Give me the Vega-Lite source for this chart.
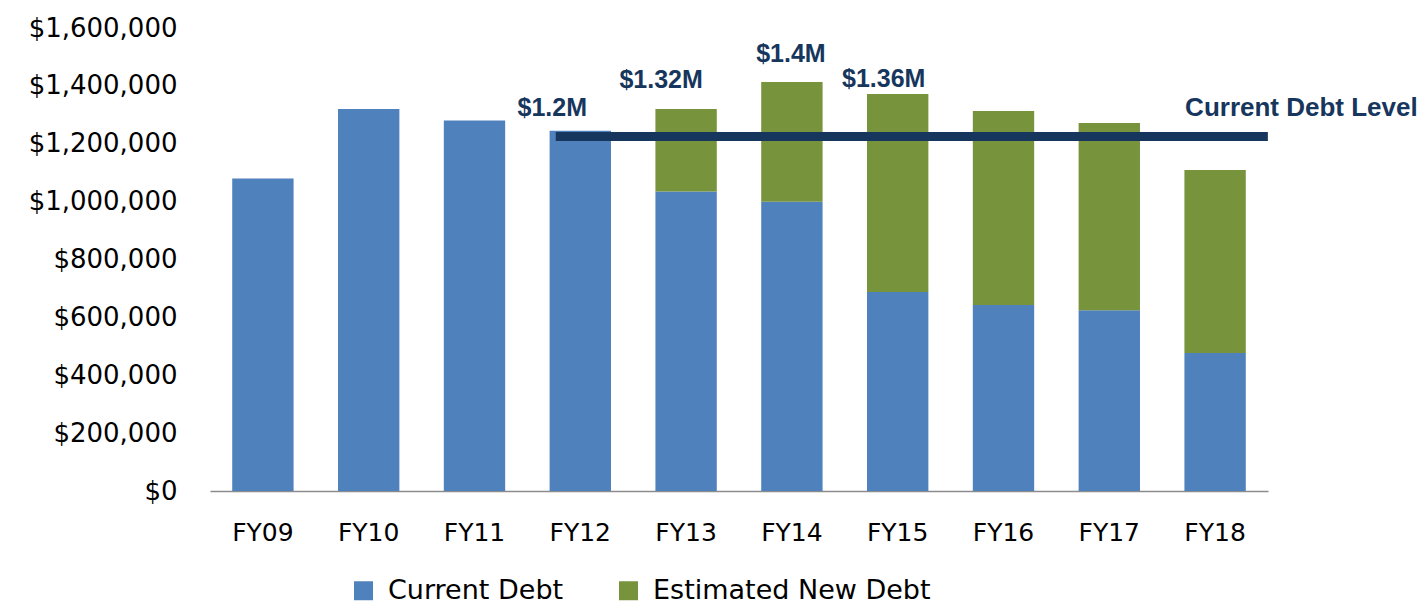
{
  "$schema": "https://vega.github.io/schema/vega-lite/v6.json",
  "width": 1058,
  "height": 463,
  "autosize": {"type": "none"},
  "padding": {"left": 210, "top": 28, "right": 157, "bottom": 114},
  "background": "white",
  "config": {"view": {"stroke": null}, "font": "DejaVu Sans"},
  "datasets": {
    "debt": [
      {"fy": "FY09", "series": "Current Debt", "value": 1080000},
      {"fy": "FY10", "series": "Current Debt", "value": 1320000},
      {"fy": "FY11", "series": "Current Debt", "value": 1280000},
      {"fy": "FY12", "series": "Current Debt", "value": 1245000},
      {"fy": "FY13", "series": "Current Debt", "value": 1035000},
      {"fy": "FY13", "series": "Estimated New Debt", "value": 285000},
      {"fy": "FY14", "series": "Current Debt", "value": 1000000},
      {"fy": "FY14", "series": "Estimated New Debt", "value": 413000},
      {"fy": "FY15", "series": "Current Debt", "value": 688000},
      {"fy": "FY15", "series": "Estimated New Debt", "value": 684000},
      {"fy": "FY16", "series": "Current Debt", "value": 643000},
      {"fy": "FY16", "series": "Estimated New Debt", "value": 670000},
      {"fy": "FY17", "series": "Current Debt", "value": 625000},
      {"fy": "FY17", "series": "Estimated New Debt", "value": 647000},
      {"fy": "FY18", "series": "Current Debt", "value": 477000},
      {"fy": "FY18", "series": "Estimated New Debt", "value": 632000}
    ],
    "labels": [
      {"fy": "FY12", "label": "$1.2M", "total": 1245000},
      {"fy": "FY13", "label": "$1.32M", "total": 1320000},
      {"fy": "FY14", "label": "$1.4M", "total": 1413000},
      {"fy": "FY15", "label": "$1.36M", "total": 1372000}
    ],
    "level": [
      {"from": "FY12", "to": "FY18", "level": 1225000, "name": "Current Debt Level"}
    ]
  },
  "layer": [
    {
      "data": {"name": "debt"},
      "mark": {"type": "bar"},
      "encoding": {
        "x": {
          "field": "fy",
          "type": "nominal",
          "sort": null,
          "scale": {"paddingInner": 0.42, "paddingOuter": 0.21},
          "axis": {
            "title": null,
            "labelAngle": 0,
            "labelFont": "DejaVu Sans",
            "labelFontSize": 25,
            "labelColor": "#000000",
            "labelPadding": 29,
            "ticks": false,
            "domainColor": "#8c8c8c",
            "domainWidth": 1.5,
            "grid": false
          }
        },
        "y": {
          "field": "value",
          "type": "quantitative",
          "stack": "zero",
          "scale": {"domain": [0, 1600000], "nice": false},
          "axis": {
            "title": null,
            "values": [0, 200000, 400000, 600000, 800000, 1000000, 1200000, 1400000, 1600000],
            "format": "$,.0f",
            "labelFont": "DejaVu Sans",
            "labelFontSize": 26,
            "labelColor": "#000000",
            "labelPadding": 33,
            "ticks": false,
            "domain": false,
            "grid": false
          }
        },
        "color": {
          "field": "series",
          "type": "nominal",
          "scale": {"domain": ["Current Debt", "Estimated New Debt"], "range": ["#4F81BD", "#77933C"]},
          "legend": {
            "title": null,
            "orient": "none",
            "direction": "horizontal",
            "legendX": 140,
            "legendY": 549,
            "symbolType": "square",
            "symbolSize": 361,
            "symbolStrokeWidth": 0,
            "symbolOpacity": 1,
            "labelFont": "DejaVu Sans",
            "labelFontSize": 27,
            "labelColor": "#000000",
            "labelOffset": 11,
            "labelLimit": 500,
            "columnPadding": 51
          }
        },
        "order": {"field": "series", "sort": "ascending"}
      }
    },
    {
      "data": {"name": "level"},
      "mark": {"type": "rule", "color": "#17365D", "strokeWidth": 9},
      "encoding": {
        "x": {"field": "from", "type": "nominal", "bandPosition": 0.1},
        "x2": {"field": "to", "bandPosition": 1.36},
        "y": {"field": "level", "type": "quantitative"}
      }
    },
    {
      "data": {"name": "level"},
      "mark": {"type": "text", "font": "Liberation Sans", "fontWeight": "bold", "fontSize": 26, "color": "#17365D", "align": "left", "baseline": "alphabetic", "dx": -30, "dy": -21},
      "encoding": {
        "x": {"field": "to", "type": "nominal"},
        "y": {"field": "level", "type": "quantitative"},
        "text": {"field": "name"}
      }
    },
    {
      "data": {"name": "labels"},
      "transform": [{"filter": "datum.fy === 'FY12'"}],
      "mark": {"type": "text", "font": "Liberation Sans", "fontWeight": "bold", "fontSize": 25, "color": "#17365D", "align": "center", "baseline": "alphabetic", "dx": -28, "dy": -15},
      "encoding": {
        "x": {"field": "fy", "type": "nominal"},
        "y": {"field": "total", "type": "quantitative"},
        "text": {"field": "label"}
      }
    },
    {
      "data": {"name": "labels"},
      "transform": [{"filter": "datum.fy === 'FY13'"}],
      "mark": {"type": "text", "font": "Liberation Sans", "fontWeight": "bold", "fontSize": 25, "color": "#17365D", "align": "center", "baseline": "alphabetic", "dx": -25, "dy": -21},
      "encoding": {
        "x": {"field": "fy", "type": "nominal"},
        "y": {"field": "total", "type": "quantitative"},
        "text": {"field": "label"}
      }
    },
    {
      "data": {"name": "labels"},
      "transform": [{"filter": "datum.fy === 'FY14'"}],
      "mark": {"type": "text", "font": "Liberation Sans", "fontWeight": "bold", "fontSize": 25, "color": "#17365D", "align": "center", "baseline": "alphabetic", "dx": -1, "dy": -20},
      "encoding": {
        "x": {"field": "fy", "type": "nominal"},
        "y": {"field": "total", "type": "quantitative"},
        "text": {"field": "label"}
      }
    },
    {
      "data": {"name": "labels"},
      "transform": [{"filter": "datum.fy === 'FY15'"}],
      "mark": {"type": "text", "font": "Liberation Sans", "fontWeight": "bold", "fontSize": 25, "color": "#17365D", "align": "center", "baseline": "alphabetic", "dx": -14, "dy": -7},
      "encoding": {
        "x": {"field": "fy", "type": "nominal"},
        "y": {"field": "total", "type": "quantitative"},
        "text": {"field": "label"}
      }
    }
  ]
}
